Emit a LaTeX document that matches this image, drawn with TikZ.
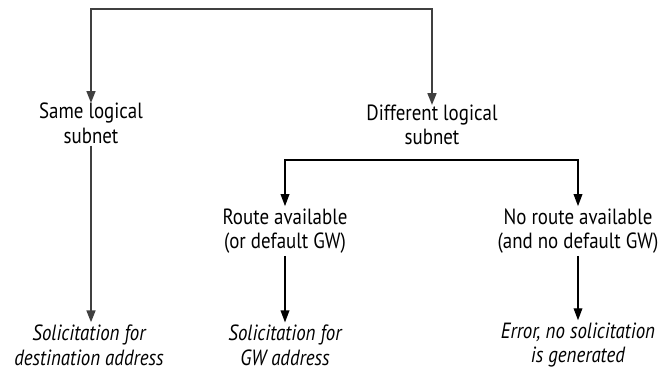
\documentclass[tikz,border=0pt]{standalone}
\usepackage{fontspec}
\setmainfont{PT Sans}[FakeStretch=0.86]
\usetikzlibrary{arrows.meta}

\begin{document}
\begin{tikzpicture}[
    x=0.75pt, y=-0.75pt,
    >={Triangle[length=9pt,width=6.5pt]},
    every node/.style={font=\fontsize{16.5}{18.5}\selectfont},
    case/.style={align=center, inner sep=1.5pt},
    result/.style={align=center, inner sep=1.5pt, font=\fontsize{16.5}{18.5}\selectfont\itshape},
    trunk/.style={->, line width=1.8pt, draw=black!75},
    branch/.style={->, line width=1pt}
]
\useasboundingbox (0,0) rectangle (664,373);

% Fallunterscheidung oben
\coordinate (root) at (261,9);
\node[case] (same) at (91,123) {Same logical\\subnet};
\node[case] (diff) at (432,125) {Different logical\\subnet};

\draw[trunk] (root) -| ([yshift=-2pt]same.north);
\draw[trunk] (root) -| ([yshift=-2pt]diff.north);

% Zweig: anderes Subnetz
\coordinate (split) at (431,160);
\node[case] (route) at (285,231) {Route available\\(or default GW)};
\node[case] (noroute) at (578,231) {No route available\\(and no default GW)};

\draw[branch] (split) -| (route.north);
\draw[branch] (split) -| (noroute.north);

% Ergebnisse
\node[result] (soldest) at (89,345) {Solicitation for\\destination address};
\node[result] (solgw) at (285,345) {Solicitation for\\GW address};
\node[result] (err) at (578,345) {Error, no solicitation\\is generated};

\draw[trunk] (same) -- (same |- soldest.north);
\draw[branch] (route) -- (solgw);
\draw[branch] (noroute) -- (err);

\end{tikzpicture}
\end{document}
